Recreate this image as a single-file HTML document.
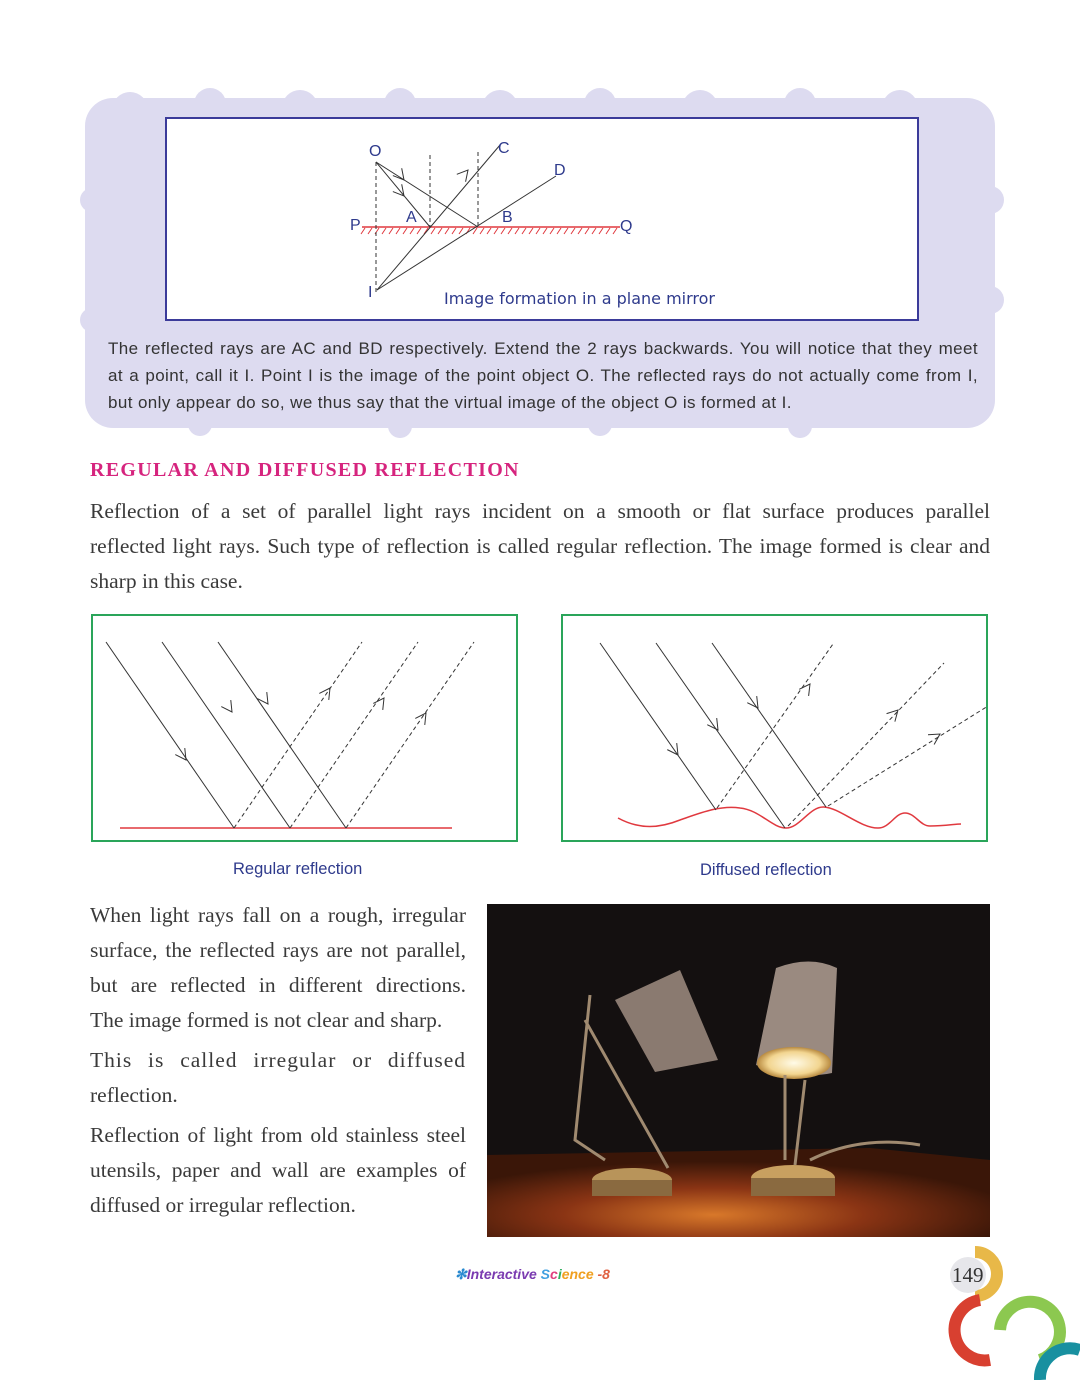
<!DOCTYPE html>
<html><head><meta charset="utf-8"><style>
body{margin:0;width:1080px;height:1380px;background:#fff;position:relative;overflow:hidden;font-family:"Liberation Serif",serif}
.abs{position:absolute}
.ln{font-size:21.5px;line-height:35px;color:#3a3a3a;text-align:justify;text-align-last:justify;white-space:nowrap;height:35px}
.last{text-align-last:left}
.bt{font-family:"Liberation Sans",sans-serif;font-size:17px;line-height:27px;color:#333;letter-spacing:0.4px;text-align:justify;text-align-last:justify;white-space:nowrap;height:27px}
.cap{font-family:"Liberation Sans",sans-serif;font-size:16.5px;color:#2e3a8c}
</style></head><body>
<svg class="abs" style="left:0;top:0" width="1080" height="1380">
 <g>
  <rect x="85" y="98" width="910" height="330" rx="28" fill="#dddbf0"/>
  <g fill="#dddbf0">
   <circle cx="130" cy="110" r="18"/><circle cx="210" cy="104" r="16"/><circle cx="300" cy="108" r="18"/><circle cx="400" cy="104" r="16"/><circle cx="500" cy="108" r="18"/><circle cx="600" cy="104" r="16"/><circle cx="700" cy="108" r="18"/><circle cx="800" cy="104" r="16"/><circle cx="900" cy="108" r="18"/><circle cx="975" cy="120" r="18"/>
   <circle cx="990" cy="200" r="14"/><circle cx="990" cy="300" r="14"/><circle cx="92" cy="200" r="12"/><circle cx="92" cy="320" r="12"/>
   <circle cx="200" cy="424" r="12"/><circle cx="400" cy="426" r="12"/><circle cx="600" cy="424" r="12"/><circle cx="800" cy="426" r="12"/>
  </g>
 </g>
 <rect x="166" y="118" width="752" height="202" fill="#fff" stroke="#3b3b9a" stroke-width="2"/>
 <g stroke="#333" stroke-width="1" fill="none">
  <line x1="362" y1="227" x2="620" y2="227" stroke="#e0393f" stroke-width="1.5"/>
  <path d="M365 228l-4 6M372 228l-4 6M379 228l-4 6M386 228l-4 6M393 228l-4 6M400 228l-4 6M407 228l-4 6M414 228l-4 6M421 228l-4 6M428 228l-4 6M435 228l-4 6M442 228l-4 6M449 228l-4 6M456 228l-4 6M463 228l-4 6M470 228l-4 6M477 228l-4 6M484 228l-4 6M491 228l-4 6M498 228l-4 6M505 228l-4 6M512 228l-4 6M519 228l-4 6M526 228l-4 6M533 228l-4 6M540 228l-4 6M547 228l-4 6M554 228l-4 6M561 228l-4 6M568 228l-4 6M575 228l-4 6M582 228l-4 6M589 228l-4 6M596 228l-4 6M603 228l-4 6M610 228l-4 6M617 228l-4 6" stroke="#e0393f"/>
  <line x1="376" y1="162" x2="376" y2="292" stroke-dasharray="4,3"/>
  <line x1="430" y1="155" x2="430" y2="227" stroke-dasharray="4,3"/>
  <line x1="478" y1="152" x2="478" y2="227" stroke-dasharray="4,3"/>
  <line x1="376" y1="162" x2="430" y2="227"/>
  <line x1="376" y1="162" x2="478" y2="227"/>
  <line x1="377" y1="290" x2="500" y2="145"/>
  <line x1="377" y1="290" x2="556" y2="176"/>
 </g>
 <g id="arrows" stroke="#333" stroke-width="1" fill="none"></g>
 <g font-family="Liberation Sans,sans-serif" font-size="16" fill="#2e3a8c">
  <text x="369" y="156">O</text><text x="498" y="153">C</text><text x="554" y="175">D</text>
  <text x="350" y="230">P</text><text x="406" y="222">A</text><text x="502" y="222">B</text><text x="620" y="231">Q</text><text x="368" y="297">I</text>
  <text x="444" y="304" font-family="DejaVu Sans,sans-serif" font-size="16">Image formation in a plane mirror</text>
 </g>
 <rect x="92" y="615" width="425" height="226" fill="none" stroke="#2aa55a" stroke-width="2"/>
 <g stroke="#333" stroke-width="1" fill="none">
  <line x1="120" y1="828" x2="452" y2="828" stroke="#e0393f" stroke-width="1.5"/>
  <line x1="106" y1="642" x2="234" y2="828"/><line x1="162" y1="642" x2="290" y2="828"/><line x1="218" y1="642" x2="346" y2="828"/>
  <line x1="234" y1="828" x2="362" y2="642" stroke-dasharray="4,3"/><line x1="290" y1="828" x2="418" y2="642" stroke-dasharray="4,3"/><line x1="346" y1="828" x2="474" y2="642" stroke-dasharray="4,3"/>
 </g>
 <rect x="562" y="615" width="425" height="226" fill="none" stroke="#2aa55a" stroke-width="2"/>
 <g stroke="#333" stroke-width="1" fill="none">
  <path d="M618 818 C640 830 660 828 680 820 C700 813 720 805 740 808 C760 810 772 828 786 828 C800 828 810 806 824 807 C840 808 860 828 878 828 C890 828 895 813 905 813 C915 813 920 826 930 826 C945 826 955 824 961 824" stroke="#e0393f" stroke-width="1.5"/>
  <line x1="600" y1="643" x2="716" y2="810"/><line x1="656" y1="643" x2="785" y2="828"/><line x1="712" y1="643" x2="826" y2="807"/>
  <line x1="717" y1="808" x2="833" y2="644" stroke-dasharray="4,3"/><line x1="788" y1="826" x2="944" y2="663" stroke-dasharray="4,3"/><line x1="828" y1="806" x2="988" y2="706" stroke-dasharray="4,3"/>
 </g>
 <g>
  <defs>
   <radialGradient id="tbl" cx="0.45" cy="0.75" r="0.6"><stop offset="0" stop-color="#d8782a"/><stop offset="0.5" stop-color="#8a3414"/><stop offset="1" stop-color="#3a1608"/></radialGradient>
   <radialGradient id="glow" cx="0.5" cy="0.5" r="0.5"><stop offset="0" stop-color="#fffbe8"/><stop offset="0.7" stop-color="#f2d590"/><stop offset="1" stop-color="#b88a40"/></radialGradient>
  </defs>
  <rect x="487" y="904" width="503" height="333" fill="#141010"/>
  <path d="M487 1155 L870 1148 L990 1160 L990 1237 L487 1237 Z" fill="url(#tbl)"/>
  <path d="M615 1000 L680 970 L718 1060 L655 1072 Z" fill="#8a7a70"/>
  <path d="M776 968 Q810 955 837 968 L832 1073 Q800 1080 756 1065 Z" fill="#9a8a80"/>
  <ellipse cx="794" cy="1063" rx="37" ry="16" fill="url(#glow)"/>
  <path d="M590 995 L575 1140 L605 1160 M585 1020 L668 1168 M785 1075 L785 1160 M805 1080 L795 1165 M810 1160 Q860 1135 920 1145" stroke="#a08a70" stroke-width="3" fill="none"/>
  <ellipse cx="632" cy="1180" rx="40" ry="12" fill="#b8945a"/><rect x="592" y="1180" width="80" height="16" fill="#8a6a40"/>
  <ellipse cx="793" cy="1178" rx="42" ry="13" fill="#c8a060"/><rect x="751" y="1178" width="84" height="18" fill="#8a6a40"/>
 </g>
 <g fill="none" stroke-width="12">
  <path d="M975 1252 A22 22 0 0 1 975 1296" stroke="#e8b848"/>
  <path d="M980 1300 A30 30 0 1 0 990 1360" stroke="#d84030"/>
  <path d="M1000 1330 A30 30 0 1 1 1040 1360" stroke="#8cc850"/>
  <path d="M1040 1380 A30 30 0 0 1 1080 1350" stroke="#1890a0"/>
  <circle cx="968" cy="1275" r="18" fill="#e6e6ea" stroke="none"/>
 </g>
</svg>
<div class="abs" style="left:108px;top:335px;width:870px">
<div class="bt">The reflected rays are AC and BD respectively. Extend the 2 rays backwards. You will notice that they meet</div>
<div class="bt">at a point, call it I. Point I is the image of the point object O. The reflected rays do not actually come from I,</div>
<div class="bt" style="text-align-last:left">but only appear do so, we thus say that the virtual image of the object O is formed at I.</div>
</div>
<div class="abs" style="left:90px;top:459px;font-size:20px;font-weight:bold;color:#d6247e;letter-spacing:1.3px">REGULAR AND DIFFUSED REFLECTION</div>
<div class="abs" style="left:90px;top:494px;width:900px">
<div class="ln">Reflection of a set of parallel light rays incident on a smooth or flat surface produces parallel</div>
<div class="ln">reflected light rays. Such type of reflection is called regular reflection. The image formed is clear and</div>
<div class="ln last">sharp in this case.</div>
</div>
<div class="abs cap" style="left:233px;top:860px">Regular reflection</div>
<div class="abs cap" style="left:700px;top:861px">Diffused reflection</div>
<div class="abs" style="left:90px;top:898px;width:376px">
<div class="ln">When light rays fall on a rough, irregular</div>
<div class="ln">surface, the reflected rays are not parallel,</div>
<div class="ln">but are reflected in different directions.</div>
<div class="ln last">The image formed is not clear and sharp.</div>
<div class="ln" style="margin-top:5px;letter-spacing:1px">This is called irregular or diffused</div>
<div class="ln last">reflection.</div>
<div class="ln" style="margin-top:5px">Reflection of light from old stainless steel</div>
<div class="ln">utensils, paper and wall are examples of</div>
<div class="ln last">diffused or irregular reflection.</div>
</div>
<div class="abs" style="left:455px;top:1266px;font-family:'Liberation Sans',sans-serif;font-style:italic;font-weight:bold;font-size:14px"><span style="color:#2a8ad0">✻</span><span style="color:#7a3ab0">Interactive</span> <span style="color:#40a0e0">S</span><span style="color:#e04080">c</span><span style="color:#30b060">i</span><span style="color:#f0a020">ence</span><span style="color:#e06040"> -8</span></div>
<div class="abs" style="left:952px;top:1263px;font-size:21px;color:#333">149</div>
<script>
// arrowheads: [tipX, tipY, dirX, dirY]
const arrowTips=[[404,180,54,65],[404,196,54,65],[468,170,123,-145],
[186,760,128,186],[232,712,128,186],[268,704,128,186],[330,688,128,-186],[384,698,128,-186],[426,713,128,-186],
[678,755,116,167],[718,730,129,185],[758,708,114,164],[810,684,116,-164],[898,710,156,-163],[940,734,160,-100]];
const g=document.getElementById('arrows');
arrowTips.forEach(a=>{
 const L=Math.hypot(a[2],a[3]),ux=a[2]/L,uy=a[3]/L,s=12,c=Math.cos(0.5),sn=Math.sin(0.5);
 const p1=[a[0]-s*(ux*c-uy*sn),a[1]-s*(uy*c+ux*sn)],p2=[a[0]-s*(ux*c+uy*sn),a[1]-s*(uy*c-ux*sn)];
 const p=document.createElementNS('http://www.w3.org/2000/svg','path');
 p.setAttribute('d',`M${p1[0]} ${p1[1]}L${a[0]} ${a[1]}L${p2[0]} ${p2[1]}`);
 
 
 g.appendChild(p);
});
</script>
</body></html>
